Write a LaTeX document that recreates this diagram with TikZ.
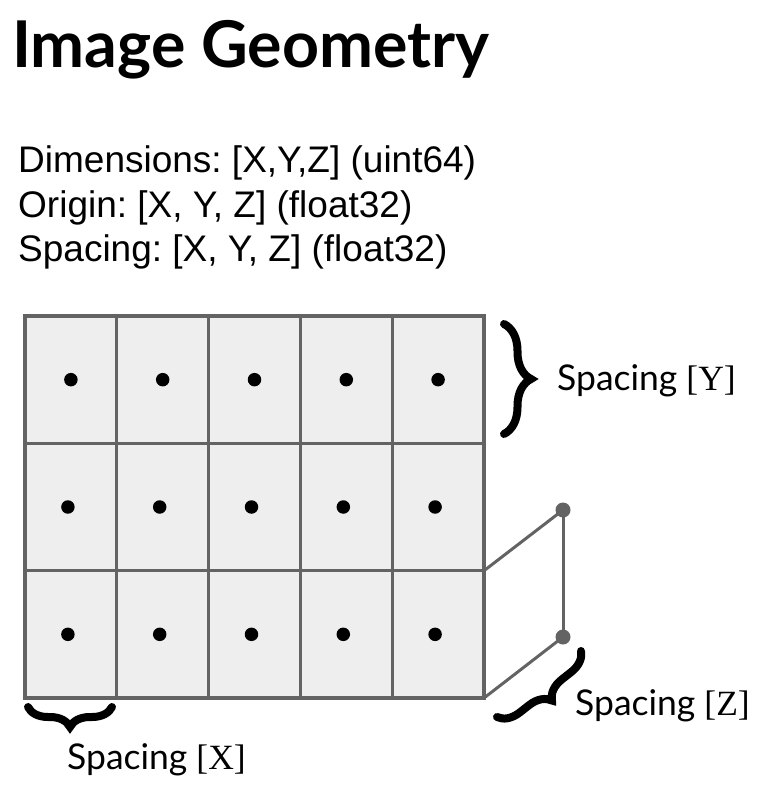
\documentclass[tikz,border=0pt]{standalone}
\usepackage{fontspec}
\setmainfont{Lato}
\newfontfamily\infofont{Liberation Sans}
\newfontfamily\axisfont{Liberation Serif}
\usetikzlibrary{decorations.pathreplacing, positioning, calc}

\definecolor{gridgray}{HTML}{636363}
\definecolor{cellfill}{HTML}{EEEEEE}

\begin{document}
\frenchspacing
\begin{tikzpicture}[
    x=1pt, y=-1pt,
    cell/.style={draw=gridgray, fill=cellfill, line width=3.2pt, minimum width=91.8pt, minimum height=127.3pt, inner sep=0pt, outer sep=0pt},
    voxel/.style={circle, fill=black, inner sep=0pt, minimum size=13.5pt},
    zdot/.style={circle, fill=gridgray, inner sep=0pt, minimum size=15pt},
    link/.style={draw=gridgray, line width=3pt},
    spacebrace/.style={decorate, decoration={brace, amplitude=#1}, line width=8pt, line cap=round},
    spacebrace/.default=22pt,
    info/.style={font=\infofont\fontsize{37}{37}\selectfont, anchor=base west, inner sep=0pt},
    spacelabel/.style={font=\fontsize{35.5}{40}\selectfont, anchor=west, inner sep=0pt}
]
\useasboundingbox (0,0) rectangle (772,797);

% === TITLE ===
\node[anchor=base west, inner sep=0pt, font=\fontsize{64.5}{76}\bfseries\selectfont] (title) at (12,68) {Image Geometry};

% === HEADER FIELDS ===
\node[info] (dims) at (18,172) {Dimensions: [X,Y,Z] (uint64)};
\node[info] (origin) at (18,217) {Origin: [X, Y, Z] (float32)};
\node[info] (spacing) at (18,261) {Spacing: [X, Y, Z] (float32)};

% === VOXEL GRID ===
\foreach \r/\dx in {1/0, 2/-3, 3/-3} {
    \foreach \c in {1,...,5} {
        \node[cell] (cell-\r-\c) at ({25+91.8*(\c-0.5)}, {316+127.33*(\r-0.5)}) {};
        \node[voxel] (vox-\r-\c) at ($(cell-\r-\c.center)+(\dx,0)$) {};
    }
}

% === DEPTH (Z) ===
\coordinate (frontTop) at (484,570.7);
\coordinate (frontBot) at (484,698);
\node[zdot] (backTop) at (563,510) {};
\node[zdot] (backBot) at (563,637) {};
\draw[link] (frontTop) -- (backTop.center);
\draw[link] (backTop.center) -- (backBot.center);
\draw[link] (backBot.center) -- (frontBot);

% === SPACING BRACES ===
\coordinate (yTop) at (504,324);
\coordinate (yBot) at (504,434);
\draw[spacebrace=27pt] (yTop) -- (yBot);
\node[spacelabel] (labelY) at (557,381) {Spacing {\axisfont[Y]}};

\coordinate (xRight) at (112,707);
\coordinate (xLeft) at (28,707);
\draw[spacebrace=20pt] (xRight) -- (xLeft);
\node[spacelabel] (labelX) at (67,760) {Spacing {\axisfont[X]}};

\coordinate (zTop) at (581,651);
\coordinate (zBot) at (497,717);
\draw[spacebrace=21pt] (zTop) -- (zBot);
\node[spacelabel] (labelZ) at (575,706) {Spacing {\axisfont[Z]}};

\end{tikzpicture}
\end{document}
